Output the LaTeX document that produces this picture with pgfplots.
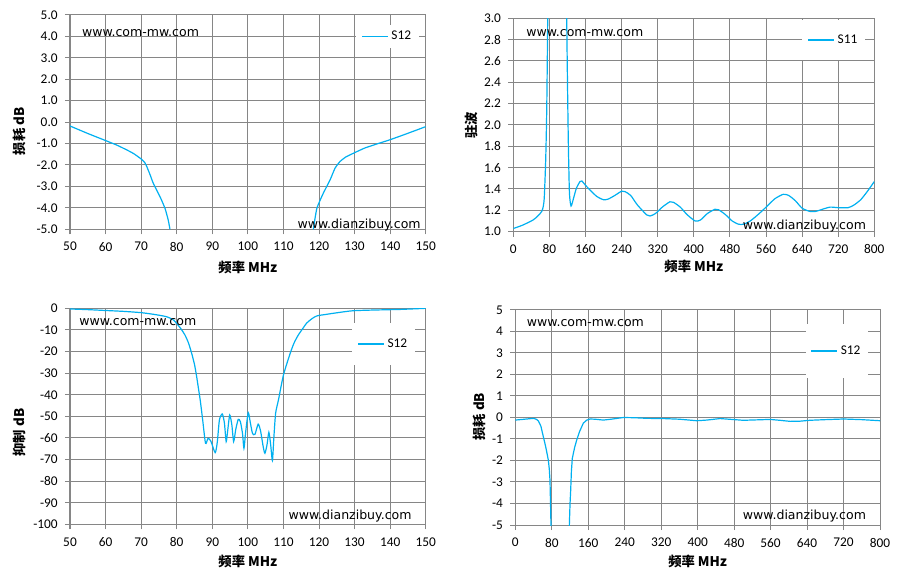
\documentclass[border=0pt]{standalone}
\usepackage{fontspec}
\setmainfont{Carlito}
\newfontfamily\wmfont{DejaVu Sans}
\newfontfamily\cjk{Noto Sans CJK SC}
\usepackage{pgfplots}
\pgfplotsset{compat=1.18}
\definecolor{sblue}{RGB}{0,176,240}
\definecolor{gridc}{RGB}{134,134,134}
\pgfplotsset{
 panel/.style={scale only axis, enlargelimits=false,
   axis line style={gridc, line width=0.75pt},
   grid=major, major grid style={gridc, line width=0.75pt},
   tick style={gridc, line width=0.75pt}, tick align=outside, major tick length=3.75pt,
   tick pos=left,
   ticklabel style={font=\fontsize{10}{12}\selectfont},
   xticklabel style={yshift=-2.5pt},
   yticklabel style={xshift=-2pt},
   /pgf/number format/assume math mode=true,
   label style={font=\cjk\bfseries\fontsize{10}{12}\selectfont},
   legend style={draw=none, fill=white, font=\fontsize{10}{12}\selectfont, anchor=center, inner xsep=4pt},
   legend image code/.code={\draw[##1] (0pt,0pt) -- (19.5pt,0pt);},
   unbounded coords=jump},
 sline/.style={sblue, line width=0.9pt, mark=none}
}
\begin{document}
\begin{tikzpicture}
\path[use as bounding box] (0,0) rectangle (675pt,434.25pt);
% Panel 1
\begin{axis}[panel, at={(52.5pt,262.3pt)}, anchor=south west, width=266.8pt, height=160.7pt,
  xmin=50, xmax=150, ymin=-5, ymax=5, xtick={50,60,...,150}, ytick={-5,-4,...,5},
  yticklabel style={/pgf/number format/.cd, fixed, fixed zerofill, precision=1},
  xlabel={频率 MHz}, ylabel={损耗 dB},
  xlabel style={at={(axis description cs:0.5,-0.178)}, anchor=center},
  ylabel style={at={(axis description cs:-0.143,0.458)}, anchor=center},
  legend style={at={(0.893,0.90)}, inner ysep=2.5pt}]
\addplot[sline, smooth, tension=0.3] coordinates {(50,-0.18) (55,-0.53) (60,-0.86) (63,-1.06) (66,-1.30) (68,-1.48) (70,-1.72) (71,-1.88) (71.6,-2.08) (72.5,-2.45) (73.4,-2.85) (75.3,-3.48) (76.7,-4.02) (77.6,-4.56) (78.1,-5.0)
 (100,nan)
 (118.4,-5) (119.4,-4.02) (121.2,-3.32) (123.1,-2.70) (124.5,-2.15) (125.9,-1.84) (127.5,-1.63) (129.7,-1.45) (133,-1.2) (137,-0.98) (140,-0.82) (145,-0.52) (150,-0.21)};
\addlegendentry{S12}
\end{axis}
% Panel 2
\begin{axis}[panel, at={(385pt,260.5pt)}, anchor=south west, width=270.75pt, height=160pt,
  xmin=0, xmax=800, ymin=1, ymax=3, xtick={0,80,...,800}, ytick={1,1.2,...,3.01},
  yticklabel style={/pgf/number format/.cd, fixed, fixed zerofill, precision=1},
  xlabel={频率 MHz}, ylabel={驻波},
  xlabel style={at={(axis description cs:0.5,-0.164)}, anchor=center},
  ylabel style={at={(axis description cs:-0.117,0.498)}, anchor=center},
  legend style={at={(0.888,0.898)}, inner ysep=9pt}]
\addplot[sline, smooth, tension=0.4] coordinates {(0,1.03) (20,1.06) (44,1.11) (55,1.15) (63,1.19) (66.5,1.24) (68.7,1.33) (71.7,1.67) (74,2.14) (76.2,3.0) (77,3.6)
 (100,nan)
 (117.5,3.6) (118.3,3.0) (120,2.4) (121.9,1.83) (124.1,1.39) (126,1.28) (127.9,1.24) (130,1.26) (134.5,1.33) (140,1.41) (147.8,1.47) (152,1.475) (158.9,1.44) (170,1.39) (185,1.33) (199.5,1.30) (210,1.305) (225,1.34) (240.2,1.38) (247.6,1.375) (260,1.34) (275,1.25) (295.6,1.157) (303,1.147) (315,1.17) (330,1.23) (347,1.28) (355,1.275) (370,1.23) (385,1.16) (403,1.10) (415,1.11) (430,1.17) (447,1.21) (455,1.205) (470,1.16) (485,1.10) (499,1.07) (510,1.07) (525,1.10) (545,1.17) (565,1.25) (580,1.31) (598,1.35) (610,1.34) (625,1.29) (640,1.22) (657,1.19) (670,1.19) (685,1.21) (702,1.23) (720,1.225) (742,1.225) (755,1.25) (770,1.30) (785,1.38) (800,1.47)};
\addlegendentry{S11}
\end{axis}
% Panel 3
\begin{axis}[panel, at={(52.5pt,41pt)}, anchor=south west, width=266.8pt, height=162pt,
  xmin=50, xmax=150, ymin=-100, ymax=0, xtick={50,60,...,150}, ytick={-100,-90,...,0},
  xlabel={频率 MHz}, ylabel={抑制 dB},
  xlabel style={at={(axis description cs:0.5,-0.173)}, anchor=center},
  ylabel style={at={(axis description cs:-0.143,0.425)}, anchor=center},
  legend style={at={(0.882,0.835)}, inner ysep=9.5pt}]
\addplot[sline, smooth, tension=0.4] coordinates {(50,-0.3) (55,-0.6) (60,-1.0) (65,-1.4) (70,-2.0) (74,-2.9) (77.2,-3.9) (79,-5.3) (80,-7) (81.2,-9.5) (82.3,-12.3) (83.3,-16) (84.2,-20.8) (85,-26) (85.6,-31.6) (86.1,-37) (86.6,-42.4) (87.3,-51.7) (88.1,-62.5) (88.8,-60.2) (89.6,-61.5) (90.8,-66.8) (91.4,-62) (92,-51.7) (92.8,-48.9) (93.4,-53) (93.9,-61.7) (94.3,-57) (94.9,-49.4) (95.5,-54) (96.0,-61.7) (96.6,-56) (97.3,-51.4) (97.9,-52.5) (98.5,-58) (98.9,-64.8) (99.4,-57) (100.1,-48.3) (100.7,-53) (101.3,-57.9) (102,-58.3) (102.9,-53.6) (103.6,-57) (104.3,-64) (104.8,-67.1) (105.4,-63) (105.9,-57.4) (106.4,-63) (106.9,-70.5) (107.3,-60) (107.8,-48.6) (108.6,-42.4) (110,-30.9) (111.9,-20.8) (113,-16) (114.2,-12.3) (115.5,-9.2) (116.5,-6.9) (118,-4.8) (119.4,-3.5) (122,-2.8) (124,-2.3) (127,-1.6) (129.7,-1.1) (135,-0.8) (142.8,-0.5) (150,0)};
\addlegendentry{S12}
\end{axis}
% Panel 4
\begin{axis}[panel, at={(386.5pt,40.5pt)}, anchor=south west, width=273.5pt, height=161.25pt,
  xmin=0, xmax=800, ymin=-5, ymax=5, xtick={0,80,...,800}, ytick={-5,-4,...,5},
  xlabel={频率 MHz}, ylabel={损耗 dB},
  xlabel style={at={(axis description cs:0.5,-0.171)}, anchor=center},
  ylabel style={at={(axis description cs:-0.0995,0.504)}, anchor=center},
  legend style={at={(0.882,0.809)}, inner ysep=14pt}]
\addplot[sline] coordinates {(0,-0.12) (20,-0.08) (39.5,-0.04) (46,-0.08) (50.5,-0.16) (56,-0.4) (61.4,-0.89) (67,-1.4) (72.4,-1.98) (74.5,-2.4) (76,-2.9) (77.2,-4) (78.2,-5) (78.5,-5.5)
 (100,nan)
 (118.2,-5.5) (118.5,-5) (120,-4) (121.4,-3.4) (123,-2.5) (125,-1.9) (130,-1.4) (134.6,-1.05) (141,-0.65) (149,-0.27) (156,-0.13) (163.8,-0.07) (175,-0.08) (193,-0.12) (210,-0.08) (237,0) (260,-0.01) (290,-0.04) (325,-0.05) (360,-0.08) (398,-0.15) (420,-0.12) (449,-0.05) (475,-0.09) (500,-0.13) (530,-0.11) (559,-0.09) (580,-0.13) (603,-0.18) (625,-0.17) (646,-0.13) (680,-0.1) (720,-0.07) (760,-0.1) (800,-0.15)};
\addlegendentry{S12}
\end{axis}
% watermarks
\begin{scope}[every node/.style={anchor=base west, inner sep=0pt, font=\wmfont\fontsize{9.4}{11}\selectfont}]
\node at (61.3pt,406.7pt) {www.com-mw.com};
\node at (223pt,262.5pt) {www.dianzibuy.com};
\node at (394.5pt,406.7pt) {www.com-mw.com};
\node at (557pt,262.3pt) {www.dianzibuy.com};
\node at (59.25pt,189.75pt) {www.com-mw.com};
\node at (216.2pt,44.8pt) {www.dianzibuy.com};
\node at (395pt,189.2pt) {www.com-mw.com};
\node at (557pt,44.8pt) {www.dianzibuy.com};
\end{scope}
\end{tikzpicture}
\end{document}
